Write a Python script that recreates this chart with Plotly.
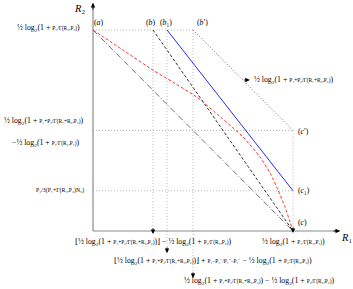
import plotly.graph_objects as go

# ---- data (normalised rate units) ----
x_a, x_b, x_b1, x_bp, x_c = 0.0, 0.30, 0.37, 0.50, 1.0     # R1 corner positions
y_top, y_cp, y_c1, y_c = 1.0, 0.50, 0.20, 0.0              # R2 corner positions
x_axis_end, y_axis_end = 1.235, 1.134

red_r1 = [0.0, 0.15, 0.30, 0.40, 0.52, 0.64, 0.75, 0.835, 0.885, 0.925, 0.96, 0.985, 1.0]
red_r2 = [1.0, 0.90, 0.80, 0.74, 0.665, 0.565, 0.468, 0.368, 0.289, 0.204, 0.119, 0.045, 0.0]

W, H = 353, 289
XR = [-0.465, 1.30]
YR = [-0.2886, 1.149]
SX = W / (XR[1] - XR[0])
SY = H / (YR[1] - YR[0])
def dx(p): return p / SX
def dy(p): return p / SY

FONT = "Liberation Serif"
FS = 7.8

def frac(n, d, s=5.4):
    return f"<span style='font-size:{s}px'>{n}/{d}</span>"

L1 = f"½ log₂(1 + {frac('P₂', 'Γ(R₂,P₂)')})"
LS = f"½ log₂(1 + {frac('P₁+P₂', 'Γ(R₁+R₂,P₂)')})"
LM1 = f"−½ log₂(1 + {frac('P₁', 'Γ(R₁,P₁)')})"
LP1 = f"½ log₂(1 + {frac('P₁', 'Γ(R₁,P₁)')})"
LP2 = frac('P₂', '3(P₁+Γ(R₁,P₂)N₀)', 5.8)
ROW1 = f"⌊{LS}⌋ − {L1}"
ROW2 = f"⌊{LS}⌋ + {frac('P₁−P₁⁻', 'P₁⁺−P₁⁻')} − {L1}"
ROW3 = f"{LS} − {L1}"

fig = go.Figure()

def line(xs, ys, color, dash, width=1, shape="linear"):
    fig.add_trace(go.Scatter(x=xs, y=ys, mode="lines", hoverinfo="skip",
                             line=dict(color=color, dash=dash, width=width, shape=shape,
                                       smoothing=0.6 if shape == "spline" else None),
                             showlegend=False))

GRID = "#b8b8b8"
DOT = "1px,2px"
# dotted guide lines
line([x_a, x_bp], [y_top, y_top], GRID, DOT)
line([x_a, x_c], [y_cp, y_cp], GRID, DOT)
line([x_a, x_c], [y_c1, y_c1], GRID, DOT)
line([x_b, x_b], [y_top, y_c - dy(3)], GRID, DOT)
line([x_b1, x_b1], [y_top, y_c - dy(22)], GRID, DOT)
line([x_bp, x_bp], [y_top, y_c - dy(47)], GRID, DOT)
line([x_c, x_c], [y_cp, y_c], GRID, DOT)
line([x_bp, x_c], [y_top, y_cp], "#666666", DOT)

# axes
line([x_a, x_a], [y_c, y_axis_end], "#8a8a8a", "solid", 1.2)
line([x_a, x_axis_end], [y_c, y_c], "#8a8a8a", "solid", 1.2)

# region boundaries
line([x_a, x_c], [y_top, y_c], "#707070", "6px,2px,1px,2px")
line([x_b, x_c], [y_top, y_c], "#303030", "3px,2px")
line(red_r1, red_r2, "#ff3030", "3px,2px", 1, "spline")
line([x_b1, x_c], [y_top, y_c1], "#2a2aff", "solid", 1)

ann = []
def lab(x, y, text, xanchor="center", xs=0, ys=0, size=FS, yanchor="middle"):
    ann.append(dict(x=x, y=y, text=text, showarrow=False, xanchor=xanchor, yanchor=yanchor,
                    xshift=xs, yshift=ys, font=dict(family=FONT, size=size, color="black")))

def arrow(x, y, axp, ayp):
    ann.append(dict(x=x, y=y, text="", showarrow=True, ax=axp, ay=ayp,
                    arrowhead=2, arrowsize=0.9, arrowwidth=1, arrowcolor="black"))

# axis arrows and labels
arrow(x_a, y_axis_end, 0, 8)
arrow(x_axis_end, y_c, -8, 0)
lab(x_a, y_axis_end, "<i>R</i>₂", xs=-14, ys=-5, size=10.5)
lab(x_axis_end, y_c, "<i>R</i>₁", xs=6, ys=-7, size=10.5)

# corner labels
lab(x_a, y_top, "(<i>a</i>)", xs=6, ys=7)
lab(x_b, y_top, "(<i>b</i>)", xs=-2, ys=7)
lab(x_b1, y_top, "(<i>b</i>₁)", xs=-1, ys=7)
lab(x_bp, y_top, "(<i>b</i>′)", xs=9, ys=7)
lab(x_c, y_cp, "(<i>c</i>′)", xs=10, ys=-1)
lab(x_c, y_c1, "(<i>c</i>₁)", xs=11, ys=0)
lab(x_c, y_c, "(<i>c</i>)", xs=9, ys=8)

# left labels
lab(x_a, y_top, L1, xanchor="right", xs=-11, ys=2)
lab(x_a, y_cp, LS, xanchor="right", xs=-7, ys=10)
lab(x_a, y_cp, LM1, xanchor="right", xs=-12, ys=-12)
lab(x_a, y_c1, LP2, xanchor="right", xs=-7, ys=0)

# right label with arrow from the outer boundary
y_lab = y_top - dy(50)
x_diag = x_bp + (y_top - y_lab) * (x_c - x_bp) / (y_top - y_cp)
arrow(x_diag + dx(7), y_lab, -7, 0)
lab(x_diag + dx(7), y_lab, LS, xanchor="left", xs=2, ys=0)

# bottom arrows and labels
arrow(x_b, y_c - dy(3), 0, -7)
arrow(x_b1, y_c - dy(22), 0, -7)
arrow(x_bp, y_c - dy(47), 0, -7)
arrow(x_c, y_c - dy(2), 0, -7)
lab(x_b, y_c, ROW1, xs=0, ys=-11)
lab(x_c, y_c, LP1, xs=0, ys=-11)
lab(x_b1, y_c, ROW2, xs=46, ys=-30)
lab(x_bp, y_c, ROW3, xanchor="left", xs=-11, ys=-50)

fig.update_layout(
    width=W, height=H, margin=dict(l=0, r=0, t=0, b=0),
    paper_bgcolor="white", plot_bgcolor="white",
    xaxis=dict(range=XR, visible=False, fixedrange=True),
    yaxis=dict(range=YR, visible=False, fixedrange=True),
    annotations=ann, showlegend=False,
)
fig.write_html("out.html", config={"displayModeBar": False},
               post_script="document.body.style.margin='0';document.body.style.overflow='hidden';")
